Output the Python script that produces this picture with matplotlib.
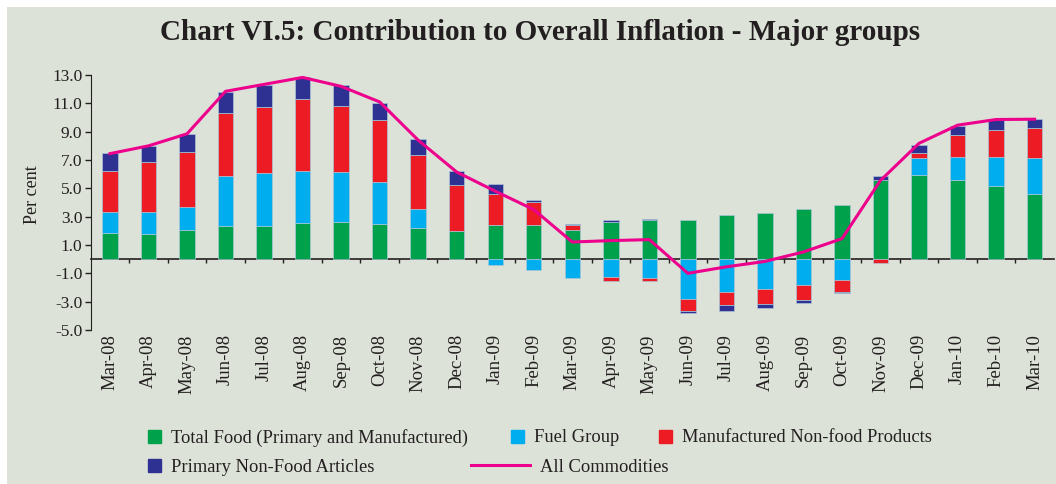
import numpy as np
import matplotlib
matplotlib.use('Agg')
import matplotlib.pyplot as plt
import matplotlib.patches as mpatches
from matplotlib.lines import Line2D

plt.rcParams['font.family'] = ['Liberation Serif', 'DejaVu Serif']

# data (percentage point contributions)
bulan = ['Mar-08', 'Apr-08', 'May-08', 'Jun-08', 'Jul-08', 'Aug-08', 'Sep-08',
         'Oct-08', 'Nov-08', 'Dec-08', 'Jan-09', 'Feb-09', 'Mar-09', 'Apr-09',
         'May-09', 'Jun-09', 'Jul-09', 'Aug-09', 'Sep-09', 'Oct-09', 'Nov-09',
         'Dec-09', 'Jan-10', 'Feb-10', 'Mar-10']
food = [1.85, 1.80, 2.03, 2.36, 2.36, 2.57, 2.64, 2.48, 2.17, 1.99, 2.43, 2.40,
        2.06, 2.62, 2.73, 2.80, 3.13, 3.29, 3.53, 3.79, 5.58, 5.91, 5.56, 5.14, 4.60]
fuel = [1.45, 1.50, 1.68, 3.53, 3.69, 3.67, 3.53, 2.99, 1.40, 0.00, -0.38, -0.76,
        -1.31, -1.24, -1.33, -2.80, -2.34, -2.08, -1.82, -1.47, 0.00, 1.22, 1.66, 2.06, 2.55]
manuf = [2.90, 3.57, 3.89, 4.44, 4.72, 5.05, 4.67, 4.37, 3.77, 3.24, 2.17, 1.62,
         0.38, -0.28, -0.19, -0.84, -0.93, -1.12, -1.03, -0.87, -0.30, 0.35, 1.52, 1.94, 2.13]
nonfood = [1.30, 1.13, 1.25, 1.47, 1.52, 1.54, 1.43, 1.21, 1.12, 0.98, 0.73, 0.13,
           0.05, 0.16, 0.12, -0.17, -0.40, -0.28, -0.26, -0.05, 0.26, 0.56, 0.68, 0.67, 0.60]
semua = [7.45, 8.00, 8.85, 11.85, 12.34, 12.83, 12.20, 11.10, 8.40, 6.15, 4.80, 3.50,
         1.21, 1.31, 1.38, -1.00, -0.54, -0.16, 0.51, 1.45, 5.56, 8.18, 9.46, 9.86, 9.88]

judul = 'Chart VI.5: Contribution to Overall Inflation - Major groups'
sumbuY = 'Per cent'
labelSeri = ['Total Food (Primary and Manufactured)', 'Fuel Group',
             'Manufactured Non-food Products', 'Primary Non-Food Articles']
labelGaris = 'All Commodities'
warna = ['#00a14b', '#00aeef', '#ed1c24', '#2e3192']
warnaGaris = '#ec008c'
latar = '#dde2d8'
teks = '#231f20'
tickerSumbuY = np.arange(-5, 14, 2)

ind = np.arange(len(bulan))
width = 0.4

fig = plt.figure(figsize=(10.56, 4.84), dpi=100)
fig.patch.set_facecolor('white')
fig.patches.append(mpatches.Rectangle((7 / 1056, 0), 1, 1 - 7 / 484, transform=fig.transFigure,
                                      facecolor=latar, edgecolor='none', zorder=-10))
ax = fig.add_axes([0.0859, 0.3182, 0.9121, 0.5268])
ax.set_facecolor(latar)

# stacked bars, positives up from zero and negatives down
pos = np.zeros(len(bulan))
neg = np.zeros(len(bulan))
for seri, c in zip([food, fuel, manuf, nonfood], warna):
    v = np.array(seri)
    bawah = np.where(v >= 0, pos, neg)
    ax.bar(ind, v, width, bottom=bawah, color=c, edgecolor='#a9c6d6', linewidth=0.5, zorder=2)
    pos = pos + np.where(v >= 0, v, 0)
    neg = neg + np.where(v < 0, v, 0)

ax.plot(ind, semua, color=warnaGaris, linewidth=2.2, zorder=3)

ymin, ymax = -5, 13
ax.set_ylim(ymin, ymax)
ax.set_xlim(-0.5, len(bulan) - 0.5)
ax.set_yticks(tickerSumbuY)
ax.set_yticklabels(['{:.1f}'.format(t) for t in tickerSumbuY])
ax.tick_params(axis='y', direction='out', length=4, width=1, labelsize=12.5, pad=2, colors=teks)

ax.set_xticks(ind)
ax.set_xticklabels(bulan, rotation=90, fontsize=13.5, color=teks)
ax.tick_params(axis='x', length=0, pad=3)

for s in ['top', 'right', 'bottom']:
    ax.spines[s].set_visible(False)
ax.spines['left'].set_color(teks)

# zero line with ticks between the months
nol = (0 - ymin) / (ymax - ymin)
sec = ax.secondary_xaxis(nol)
sec.set_xticks(ind[1:] - 0.5)
sec.set_xticklabels([])
sec.tick_params(axis='x', direction='out', length=3, width=1, colors=teks)
sec.spines['bottom'].set_color(teks)
sec.spines['bottom'].set_linewidth(1.2)
sec.spines['top'].set_visible(False)

ax.set_ylabel(sumbuY, fontsize=13, color=teks)
ax.yaxis.set_label_coords(-0.052, 0.53)

fig.text(0.511, 0.932, judul, ha='center', va='center', fontsize=21, fontweight='bold', color=teks)

# legend entries placed one by one like the original
hs = [mpatches.Patch(color=c, label=l) for c, l in zip(warna, labelSeri)]
hl = Line2D([], [], color=warnaGaris, linewidth=2.2, label=labelGaris)
entri = [(hs[0], 148, 438, 0.7), (hs[1], 511, 438, 0.7), (hs[2], 659, 438, 0.7),
         (hs[3], 148, 467, 0.7), (hl, 471, 467, 3.2)]
for h, px, py, hlen in entri:
    leg = fig.legend(handles=[h], labels=[h.get_label()], loc='center left',
                     bbox_to_anchor=(px / 1056, 1 - py / 484), frameon=False,
                     fontsize=13.3, handlelength=hlen, handleheight=0.7,
                     handletextpad=0.55, borderpad=0, borderaxespad=0, labelcolor=teks)

plt.savefig('out.png', dpi=100, facecolor=fig.get_facecolor())
plt.close(fig)
